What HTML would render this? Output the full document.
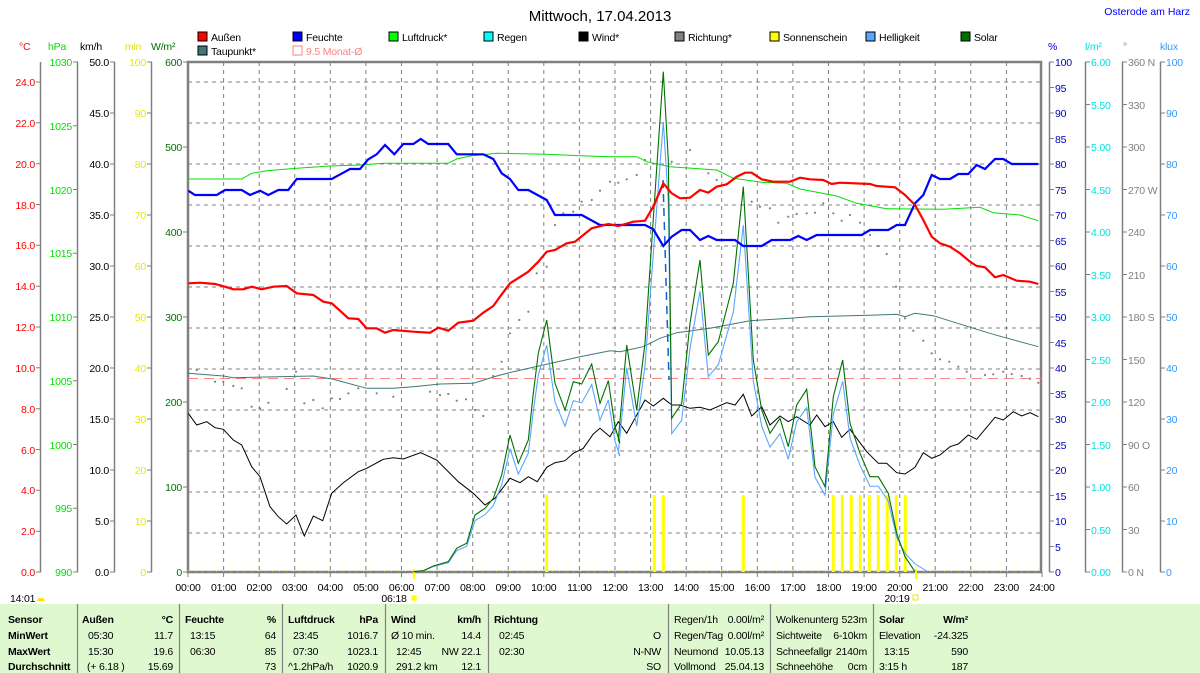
<!DOCTYPE html><html><head><meta charset="utf-8"><style>
body{margin:0;background:#fff;}
svg{display:block;font-family:"Liberation Sans",sans-serif;}
.t{font-size:10.5px;letter-spacing:-0.2px}
.tb{font-size:10.5px;font-weight:bold;letter-spacing:-0.2px}
</style></head><body>
<svg width="1200" height="673" viewBox="0 0 1200 673" xmlns="http://www.w3.org/2000/svg">
<rect width="1200" height="673" fill="#fff"/>
<text x="600" y="21" font-size="15" text-anchor="middle" fill="#000">Mittwoch, 17.04.2013</text>
<text x="1190" y="15" font-size="10.5" text-anchor="end" fill="#0000ff">Osterode am Harz</text>
<g class="t">
<rect x="198" y="32" width="9" height="9" fill="#f00" stroke="#000"/><text x="211" y="41">Außen</text>
<rect x="293" y="32" width="9" height="9" fill="#00f" stroke="#000"/><text x="306" y="41">Feuchte</text>
<rect x="389" y="32" width="9" height="9" fill="#0f0" stroke="#000"/><text x="402" y="41">Luftdruck*</text>
<rect x="484" y="32" width="9" height="9" fill="#0ff" stroke="#000"/><text x="497" y="41">Regen</text>
<rect x="579" y="32" width="9" height="9" fill="#000" stroke="#000"/><text x="592" y="41">Wind*</text>
<rect x="675" y="32" width="9" height="9" fill="#808080" stroke="#000"/><text x="688" y="41">Richtung*</text>
<rect x="770" y="32" width="9" height="9" fill="#ff0" stroke="#000"/><text x="783" y="41">Sonnenschein</text>
<rect x="866" y="32" width="9" height="9" fill="#59a5ff" stroke="#000"/><text x="879" y="41">Helligkeit</text>
<rect x="961" y="32" width="9" height="9" fill="#007000" stroke="#000"/><text x="974" y="41">Solar</text>
<rect x="198" y="46" width="9" height="9" fill="#407878" stroke="#000"/><text x="211" y="55">Taupunkt*</text>
<rect x="293" y="46" width="9" height="9" fill="none" stroke="#ff8080"/><text x="306" y="55" fill="#ff8080">9.5 Monat-Ø</text>
</g>
<g class="t">
<text x="19" y="50" fill="#f00">°C</text>
<text x="48" y="50" fill="#00e000">hPa</text>
<text x="80" y="50" fill="#000">km/h</text>
<text x="125" y="50" fill="#e0e000">min</text>
<text x="151" y="50" fill="#007000">W/m²</text>
<text x="1048" y="50" fill="#0000c0">%</text>
<text x="1085" y="50" fill="#00e0e0">l/m²</text>
<text x="1123" y="50" fill="#808080">°</text>
<text x="1160" y="50" fill="#3399ff">klux</text>
</g>
<g stroke="#808080" stroke-width="1.5">
<line x1="40.5" y1="62" x2="40.5" y2="572"/>
<line x1="77.5" y1="62" x2="77.5" y2="572"/>
<line x1="114.5" y1="62" x2="114.5" y2="572"/>
<line x1="151.5" y1="62" x2="151.5" y2="572"/>
<line x1="1049.5" y1="62" x2="1049.5" y2="572"/>
<line x1="1085.5" y1="62" x2="1085.5" y2="572"/>
<line x1="1122.5" y1="62" x2="1122.5" y2="572"/>
<line x1="1160.5" y1="62" x2="1160.5" y2="572"/>
</g>
<g stroke="#808080">
<path d="M36 82H41M36 122.8H41M36 163.7H41M36 204.5H41M36 245.3H41M36 286.2H41M36 327H41M36 367.8H41M36 408.7H41M36 449.5H41M36 490.3H41M36 531.2H41M36 572H41"/>
<path d="M73 62H78M73 125.75H78M73 189.5H78M73 253.25H78M73 317H78M73 380.75H78M73 444.5H78M73 508.25H78M73 572H78"/>
<path d="M110 62H115M110 113H115M110 164H115M110 215H115M110 266H115M110 317H115M110 368H115M110 419H115M110 470H115M110 521H115M110 572H115"/>
<path d="M147 62H152M147 113H152M147 164H152M147 215H152M147 266H152M147 317H152M147 368H152M147 419H152M147 470H152M147 521H152M147 572H152"/>
<path d="M183 62H188M183 147H188M183 232H188M183 317H188M183 402H188M183 487H188M183 572H188"/>
<path d="M1049 62h5M1049 87.5h5M1049 113h5M1049 138.5h5M1049 164h5M1049 189.5h5M1049 215h5M1049 240.5h5M1049 266h5M1049 291.5h5M1049 317h5M1049 342.5h5M1049 368h5M1049 393.5h5M1049 419h5M1049 444.5h5M1049 470h5M1049 495.5h5M1049 521h5M1049 546.5h5M1049 572h5"/>
<path d="M1085 62h5M1085 104.5h5M1085 147h5M1085 189.5h5M1085 232h5M1085 274.5h5M1085 317h5M1085 359.5h5M1085 402h5M1085 444.5h5M1085 487h5M1085 529.5h5M1085 572h5"/>
<path d="M1122 62h5M1122 104.5h5M1122 147h5M1122 189.5h5M1122 232h5M1122 274.5h5M1122 317h5M1122 359.5h5M1122 402h5M1122 444.5h5M1122 487h5M1122 529.5h5M1122 572h5"/>
<path d="M1160 62h5M1160 113h5M1160 164h5M1160 215h5M1160 266h5M1160 317h5M1160 368h5M1160 419h5M1160 470h5M1160 521h5M1160 572h5"/>
</g>
<g class="t" text-anchor="end">
<g fill="#f00"><text x="35" y="86">24.0</text><text x="35" y="127">22.0</text><text x="35" y="168">20.0</text><text x="35" y="209">18.0</text><text x="35" y="249">16.0</text><text x="35" y="290">14.0</text><text x="35" y="331">12.0</text><text x="35" y="372">10.0</text><text x="35" y="413">8.0</text><text x="35" y="454">6.0</text><text x="35" y="494">4.0</text><text x="35" y="535">2.0</text><text x="35" y="576">0.0</text></g>
<g fill="#00e000"><text x="72" y="66">1030</text><text x="72" y="130">1025</text><text x="72" y="194">1020</text><text x="72" y="257">1015</text><text x="72" y="321">1010</text><text x="72" y="385">1005</text><text x="72" y="449">1000</text><text x="72" y="512">995</text><text x="72" y="576">990</text></g>
<g fill="#000"><text x="109" y="66">50.0</text><text x="109" y="117">45.0</text><text x="109" y="168">40.0</text><text x="109" y="219">35.0</text><text x="109" y="270">30.0</text><text x="109" y="321">25.0</text><text x="109" y="372">20.0</text><text x="109" y="423">15.0</text><text x="109" y="474">10.0</text><text x="109" y="525">5.0</text><text x="109" y="576">0.0</text></g>
<g fill="#e8e800"><text x="146" y="66">100</text><text x="146" y="117">90</text><text x="146" y="168">80</text><text x="146" y="219">70</text><text x="146" y="270">60</text><text x="146" y="321">50</text><text x="146" y="372">40</text><text x="146" y="423">30</text><text x="146" y="474">20</text><text x="146" y="525">10</text><text x="146" y="576">0</text></g>
<g fill="#007000"><text x="182" y="66">600</text><text x="182" y="151">500</text><text x="182" y="236">400</text><text x="182" y="321">300</text><text x="182" y="406">200</text><text x="182" y="491">100</text><text x="182" y="576">0</text></g>
</g>
<g class="t">
<g fill="#0000c0"><text x="1055" y="66">100</text><text x="1055" y="92">95</text><text x="1055" y="117">90</text><text x="1055" y="143">85</text><text x="1055" y="168">80</text><text x="1055" y="194">75</text><text x="1055" y="219">70</text><text x="1055" y="245">65</text><text x="1055" y="270">60</text><text x="1055" y="296">55</text><text x="1055" y="321">50</text><text x="1055" y="347">45</text><text x="1055" y="372">40</text><text x="1055" y="398">35</text><text x="1055" y="423">30</text><text x="1055" y="449">25</text><text x="1055" y="474">20</text><text x="1055" y="500">15</text><text x="1055" y="525">10</text><text x="1055" y="551">5</text><text x="1055" y="576">0</text></g>
<g fill="#00e0e0"><text x="1091" y="66">6.00</text><text x="1091" y="109">5.50</text><text x="1091" y="151">5.00</text><text x="1091" y="194">4.50</text><text x="1091" y="236">4.00</text><text x="1091" y="279">3.50</text><text x="1091" y="321">3.00</text><text x="1091" y="364">2.50</text><text x="1091" y="406">2.00</text><text x="1091" y="449">1.50</text><text x="1091" y="491">1.00</text><text x="1091" y="534">0.50</text><text x="1091" y="576">0.00</text></g>
<g fill="#808080"><text x="1128" y="66">360 N</text><text x="1128" y="109">330</text><text x="1128" y="151">300</text><text x="1128" y="194">270 W</text><text x="1128" y="236">240</text><text x="1128" y="279">210</text><text x="1128" y="321">180 S</text><text x="1128" y="364">150</text><text x="1128" y="406">120</text><text x="1128" y="449">90 O</text><text x="1128" y="491">60</text><text x="1128" y="534">30</text><text x="1128" y="576">0 N</text></g>
<g fill="#3399ff"><text x="1166" y="66">100</text><text x="1166" y="117">90</text><text x="1166" y="168">80</text><text x="1166" y="219">70</text><text x="1166" y="270">60</text><text x="1166" y="321">50</text><text x="1166" y="372">40</text><text x="1166" y="423">30</text><text x="1166" y="474">20</text><text x="1166" y="525">10</text><text x="1166" y="576">0</text></g>
</g>
<g stroke="#808080" stroke-dasharray="4,4" stroke-width="1">
<path d="M188 82H1041M188 123H1041M188 164H1041M188 205H1041M188 246H1041M188 287H1041M188 328H1041M188 369H1041M188 410H1041M188 451H1041M188 492H1041M188 533H1041"/>
<path d="M223.6 62V572M259.2 62V572M294.7 62V572M330.3 62V572M365.9 62V572M401.5 62V572M437.1 62V572M472.7 62V572M508.2 62V572M543.8 62V572M579.4 62V572M615 62V572M650.6 62V572M686.2 62V572M721.7 62V572M757.3 62V572M792.9 62V572M828.5 62V572M864.1 62V572M899.7 62V572M935.2 62V572M970.8 62V572M1006.4 62V572"/>
</g>
<g stroke="#808080"><path d="M188 572v5M223.6 572v5M259.2 572v5M294.7 572v5M330.3 572v5M365.9 572v5M401.5 572v5M437.1 572v5M472.7 572v5M508.2 572v5M543.8 572v5M579.4 572v5M615 572v5M650.6 572v5M686.2 572v5M721.7 572v5M757.3 572v5M792.9 572v5M828.5 572v5M864.1 572v5M899.7 572v5M935.2 572v5M970.8 572v5M1006.4 572v5M1042 572v5"/></g>
<rect x="188" y="62" width="853" height="510" fill="none" stroke="#808080" stroke-width="2.5"/>
<line x1="188" y1="571" x2="1041" y2="571" stroke="#e8e800" stroke-width="1" stroke-dasharray="1,6"/>
<g stroke="#ffff00" stroke-width="3">
<path d="M546.7 572V495M654.3 572V495M663.3 572V495M743.3 572V495M833.3 572V495M842.3 572V495M851.3 572V495M860.3 572V495M869.3 572V495M878.3 572V495M887.3 572V495M896.3 572V495M905.3 572V495"/>
<path d="M414 569V579M916 569V579" stroke-width="2"/>
</g>
<line x1="188" y1="378.5" x2="1041" y2="378.5" stroke="#ff8080" stroke-dasharray="10,6"/>
<g fill="#808080">
<circle cx="196.7" cy="370" r="1.1"/><circle cx="215" cy="381.7" r="1.1"/><circle cx="223.3" cy="381.7" r="1.1"/><circle cx="233.3" cy="386" r="1.1"/><circle cx="241.7" cy="388.3" r="1.1"/><circle cx="251.7" cy="406.7" r="1.1"/><circle cx="260" cy="408.3" r="1.1"/><circle cx="268.3" cy="402.7" r="1.1"/><circle cx="286.7" cy="389" r="1.1"/><circle cx="296" cy="371.7" r="1.1"/><circle cx="304.3" cy="403.3" r="1.1"/><circle cx="313.3" cy="400" r="1.1"/><circle cx="322.7" cy="408.3" r="1.1"/><circle cx="331.7" cy="398.3" r="1.1"/><circle cx="340" cy="399" r="1.1"/><circle cx="348.3" cy="393.3" r="1.1"/><circle cx="358.3" cy="388.3" r="1.1"/><circle cx="376.7" cy="393.3" r="1.1"/><circle cx="393.3" cy="396.7" r="1.1"/><circle cx="430" cy="391.7" r="1.1"/><circle cx="440" cy="395" r="1.1"/><circle cx="448.3" cy="394" r="1.1"/><circle cx="456.7" cy="400.7" r="1.1"/><circle cx="466" cy="399.3" r="1.1"/><circle cx="475" cy="410" r="1.1"/><circle cx="483.3" cy="416" r="1.1"/><circle cx="493.3" cy="376" r="1.1"/><circle cx="501.7" cy="361.7" r="1.1"/><circle cx="510" cy="333.3" r="1.1"/><circle cx="519.3" cy="320" r="1.1"/><circle cx="528.3" cy="311.7" r="1.1"/><circle cx="536.7" cy="273.3" r="1.1"/><circle cx="546.7" cy="266.7" r="1.1"/><circle cx="555" cy="225" r="1.1"/><circle cx="563.3" cy="213.3" r="1.1"/><circle cx="573.3" cy="211.7" r="1.1"/><circle cx="581.7" cy="201.7" r="1.1"/><circle cx="591.7" cy="200" r="1.1"/><circle cx="600" cy="190.7" r="1.1"/><circle cx="610" cy="181.7" r="1.1"/><circle cx="618.3" cy="182.7" r="1.1"/><circle cx="626.7" cy="179.3" r="1.1"/><circle cx="636.7" cy="175" r="1.1"/><circle cx="645" cy="160" r="1.1"/><circle cx="671.7" cy="161.7" r="1.1"/><circle cx="690" cy="150" r="1.1"/><circle cx="708.3" cy="173.3" r="1.1"/><circle cx="716.7" cy="180" r="1.1"/><circle cx="751.7" cy="201.7" r="1.1"/><circle cx="760" cy="206.7" r="1.1"/><circle cx="770" cy="208.3" r="1.1"/><circle cx="778.3" cy="222.7" r="1.1"/><circle cx="788.3" cy="216.7" r="1.1"/><circle cx="796.7" cy="214" r="1.1"/><circle cx="806.7" cy="213.3" r="1.1"/><circle cx="815" cy="212.7" r="1.1"/><circle cx="823.3" cy="203.3" r="1.1"/><circle cx="833.3" cy="213.3" r="1.1"/><circle cx="841.7" cy="220.7" r="1.1"/><circle cx="850" cy="215" r="1.1"/><circle cx="860" cy="222.7" r="1.1"/><circle cx="870" cy="235" r="1.1"/><circle cx="878.3" cy="246" r="1.1"/><circle cx="886.7" cy="254" r="1.1"/><circle cx="896" cy="286.7" r="1.1"/><circle cx="905" cy="318.3" r="1.1"/><circle cx="913.3" cy="330.7" r="1.1"/><circle cx="923.3" cy="340.7" r="1.1"/><circle cx="931.7" cy="353.3" r="1.1"/><circle cx="940" cy="359.3" r="1.1"/><circle cx="949.3" cy="361.7" r="1.1"/><circle cx="958.3" cy="366.7" r="1.1"/><circle cx="966.7" cy="371.7" r="1.1"/><circle cx="985" cy="375" r="1.1"/><circle cx="993.3" cy="374.3" r="1.1"/><circle cx="1003.3" cy="371.7" r="1.1"/><circle cx="1011.7" cy="374" r="1.1"/><circle cx="1021.7" cy="376" r="1.1"/><circle cx="1030" cy="378.7" r="1.1"/><circle cx="1038.3" cy="382.7" r="1.1"/>
</g>
<polyline fill="none" stroke="#00e000" stroke-width="1" points="188.3,179 241.7,179 251.7,173.3 266.7,170.7 296.7,168.3 330,166 360,165 383.3,163.3 448.3,163.3 456.7,159 470,156 496.7,153.3 546.7,154.3 580,155.7 610,156.7 636.7,156.7 646.7,161.7 670,166.7 716.7,170 733.3,178.3 761.7,182.3 786.7,183.3 800,189 836.7,196 856.7,203.3 886.7,208.7 943.3,209.3 980,207.3 993.3,212.7 1020,215 1038.3,220.7"/>
<polyline fill="none" stroke="#407878" stroke-width="1" points="188.3,373.3 223.3,376 233.3,377.7 313.3,376 333.3,379.3 366.7,388.3 393.3,388.3 413.3,386.7 440,384 473.3,383.3 496.7,376 513.3,371.7 553.3,362.7 580,356.7 610,350.7 620,351.7 643.3,346.7 660,338.3 676.7,332.7 710,328.3 750,320.7 790,318.3 810,316.7 870,315.3 896.7,314.3 905,316.7 915,313.3 933.3,315.7 976.7,329.3 996.7,335.3 1038.3,346.7"/>
<polyline fill="none" stroke="#000" stroke-width="1" points="188.3,413.3 196.7,425 206.7,421.7 215,427.7 223.3,429.3 233.3,440 241.7,445 251.7,466.7 260,476.7 270,506.7 278.3,516.7 286.7,524 296,515 304.3,536 313.3,516 322.7,520.7 331.7,493.3 343.3,482.7 358.3,471.7 366.7,468.3 383.3,459.3 393.3,457.7 403.3,459 420.7,452.7 436.7,460 458.3,481.7 473.3,493.3 485,505 495,498.3 510,478.3 520,482.7 528.3,476.7 537.3,481.7 546.7,467.3 555,462.7 565,460.7 573.3,453.3 583.3,448.3 593.3,434 600,428.3 610,436.7 618.3,421.7 626.7,433.3 645,400 653.3,406 663.3,398.3 671.7,405 680,405 690,408.3 700,407.3 710,410 726.7,402.7 735,405 743.3,394.3 751.7,416 761.7,406.7 770,425 780,416 788.3,421.7 796.7,416.7 810,425 816.7,415 825,426.7 833.3,421.7 841.7,437.3 850,429.3 866.7,451.7 878.3,463.3 886.7,463.3 896.7,472.7 905,474 915,467.3 923.3,452.7 931.7,458.3 940,455 950,446.7 958.3,444 968.3,435 976.7,439.3 995,417.3 1003.3,420 1013.3,411.7 1021.7,416 1030,412.7 1038.3,416.7"/>
<g transform="translate(0,572) scale(1,0.9) translate(0,-572)">
<polyline fill="none" stroke="#59a5ff" stroke-width="1.1" points="413.3,571.7 423.3,570.7 433.3,566 448.3,561.7 456.7,548.3 466.7,543.3 475,515 485,508.3 493.3,498.3 501.7,475 510,435 518.3,463.3 528.3,440 533.3,393.3 538.3,353.3 546.7,320 555,383.3 565,410 573.3,381.7 581.7,384 591.7,364 600,403.3 608.3,380.7 615,426.7 620,443.3 618.3,440 626.7,345 636.7,410 645,343.3 655,193.3 663.3,71.7 668.3,160 671.7,418.3 681.7,403.3 690,323.3 700,260 708.3,355 718.3,341.7 733.3,283.3 743.3,186.7 753.3,360 761.7,410 770,433.3 780,418.3 788.3,446.7 796.7,405 806.7,389.3 815,466.7 825,486.7 833.3,396.7 842.7,360 850,423.3 860,453.3 870,476.7 878.3,476.7 888.3,493.3 896.7,533.3 905,551 915,563 928,571.7"/>
</g>
<polyline fill="none" stroke="#007000" stroke-width="1.1" points="413.3,571.7 423.3,570.7 433.3,566 448.3,561.7 456.7,548.3 466.7,543.3 475,515 485,508.3 493.3,498.3 501.7,475 510,435 518.3,463.3 528.3,440 533.3,393.3 538.3,353.3 546.7,320 555,383.3 565,410 573.3,381.7 581.7,384 591.7,364 600,403.3 608.3,380.7 615,426.7 620,443.3 618.3,440 626.7,345 636.7,410 645,343.3 655,193.3 663.3,71.7 668.3,160 671.7,418.3 681.7,403.3 690,323.3 700,260 708.3,355 718.3,341.7 733.3,283.3 743.3,186.7 753.3,360 761.7,410 770,433.3 780,418.3 788.3,446.7 796.7,405 806.7,389.3 815,466.7 825,486.7 833.3,396.7 842.7,360 850,423.3 860,453.3 870,476.7 878.3,476.7 888.3,493.3 896.7,533.3 905,556.7 915,571.7"/>
<line x1="663" y1="180" x2="669" y2="380" stroke="#1060d0" stroke-width="1.5" stroke-dasharray="8,6"/>
<polyline fill="none" stroke="#0000ff" stroke-width="2.2" points="188.3,190.7 195,195 216.7,195 225,190 241.7,190 250,195 260,190.7 268.3,195 278.3,190 288.3,190 296.7,179 331.7,179 343.3,172.7 350,169 360,169 368.3,159.3 376.7,154.3 385,145 394.3,154.3 403.3,144 413.3,144 420.7,139 428.3,144 448.3,144 456.7,154.3 483.3,154.3 493.3,159 501.7,173.3 510,179 518.3,190 528.3,190 546.7,200 555,215 581.7,215 600,225 645,225 653.3,229.3 663.3,246 671.7,236.7 681.7,230 690,230 700,240 708.3,236 716.7,240 735,240 743.3,246 761.7,246 771.7,240 790,240 798.3,236 806.7,240 816.7,235 861.7,235 870,230 888.3,230 896.7,225 905,225 915,203.3 923.3,195 931.7,175 940,179 950,179 958.3,174 968.3,174 976.7,165 985,169 995,159 1003.3,159 1011.7,164 1038.3,164"/>
<polyline fill="none" stroke="#ff0000" stroke-width="2.2" points="188.3,283.3 200,282.7 215,284 225,286.7 233.3,289.3 243.3,289.3 251.7,286.7 261.7,289.3 273.3,286.7 286.7,286 296.7,293.3 313.3,295 323.3,301.7 331.7,303.3 340,310.7 348.3,318.3 358.3,319 366.7,328.3 376.7,328.3 385,332.7 393.3,330 413.3,331.7 430,332.7 438.3,327.7 448.3,330.7 458.3,322.7 473.3,320.7 483.3,312.7 493.3,306 500,296.7 510,283.3 528.3,271.7 538.3,261.7 546.7,251.7 555,250 566.7,243.3 575,241.7 591.7,228.3 608.3,224 618.3,226 633.3,221.7 645,220.7 653.3,206.7 663.3,183.3 671.7,193.3 680,198.3 690,197.7 700,190 708.3,192.7 716.7,186.7 726.7,184.3 736.7,176.7 745,172.7 751.7,172.7 761.7,179.3 773.3,181.7 790,181.7 800,177.7 810,179.3 823.3,180 831.7,184 840,182.7 870,184 876.7,186 895,187.3 905,195 915,205 923.3,220 931.7,236.7 940,243.3 950,246.7 960,253.3 970,261.7 976.7,266 985,267.3 995,277.3 1003.3,275 1016.7,280.7 1030,281.7 1038.3,284"/>
<g class="t" text-anchor="middle">
<text x="188" y="591">00:00</text><text x="223.6" y="591">01:00</text><text x="259.2" y="591">02:00</text><text x="294.7" y="591">03:00</text><text x="330.3" y="591">04:00</text><text x="365.9" y="591">05:00</text><text x="401.5" y="591">06:00</text><text x="437.1" y="591">07:00</text><text x="472.7" y="591">08:00</text><text x="508.2" y="591">09:00</text><text x="543.8" y="591">10:00</text><text x="579.4" y="591">11:00</text><text x="615" y="591">12:00</text><text x="650.6" y="591">13:00</text><text x="686.2" y="591">14:00</text><text x="721.7" y="591">15:00</text><text x="757.3" y="591">16:00</text><text x="792.9" y="591">17:00</text><text x="828.5" y="591">18:00</text><text x="864.1" y="591">19:00</text><text x="899.7" y="591">20:00</text><text x="935.2" y="591">21:00</text><text x="970.8" y="591">22:00</text><text x="1006.4" y="591">23:00</text><text x="1042" y="591">24:00</text>
<text x="394" y="602">06:18</text><text x="897" y="602">20:19</text>
</g>
<text class="t" x="10" y="602">14:01</text>
<path d="M37 601a4 3 0 0 1 8 0z" fill="#ffe000"/>
<circle cx="414" cy="598" r="3" fill="#ffff00"/>
<rect x="913" y="595" width="5" height="5" fill="none" stroke="#e8e800"/>
<rect x="0" y="604" width="1200" height="69" fill="#e0f8d0"/>
<g stroke="#808080" stroke-width="1.2"><path d="M77.5 604V673M179.5 604V673M282.5 604V673M385.5 604V673M488.5 604V673M668.5 604V673M770.5 604V673M873.5 604V673"/></g>
<g class="tb">
<text x="8" y="623">Sensor</text><text x="8" y="639">MinWert</text><text x="8" y="655">MaxWert</text><text x="8" y="670">Durchschnitt</text>
<text x="82" y="623">Außen</text><text x="173" y="623" text-anchor="end">°C</text>
<text x="185" y="623">Feuchte</text><text x="276" y="623" text-anchor="end">%</text>
<text x="288" y="623">Luftdruck</text><text x="378" y="623" text-anchor="end">hPa</text>
<text x="391" y="623">Wind</text><text x="481" y="623" text-anchor="end">km/h</text>
<text x="494" y="623">Richtung</text>
<text x="879" y="623">Solar</text><text x="968" y="623" text-anchor="end">W/m²</text>
</g>
<g class="t">
<text x="88" y="639">05:30</text><text x="173" y="639" text-anchor="end">11.7</text>
<text x="88" y="655">15:30</text><text x="173" y="655" text-anchor="end">19.6</text>
<text x="87" y="670">(+ 6.18 )</text><text x="173" y="670" text-anchor="end">15.69</text>
<text x="190" y="639">13:15</text><text x="276" y="639" text-anchor="end">64</text>
<text x="190" y="655">06:30</text><text x="276" y="655" text-anchor="end">85</text>
<text x="276" y="670" text-anchor="end">73</text>
<text x="293" y="639">23:45</text><text x="378" y="639" text-anchor="end">1016.7</text>
<text x="293" y="655">07:30</text><text x="378" y="655" text-anchor="end">1023.1</text>
<text x="288" y="670">^1.2hPa/h</text><text x="378" y="670" text-anchor="end">1020.9</text>
<text x="391" y="639">Ø 10 min.</text><text x="481" y="639" text-anchor="end">14.4</text>
<text x="396" y="655">12:45</text><text x="481" y="655" text-anchor="end">NW 22.1</text>
<text x="396" y="670">291.2 km</text><text x="481" y="670" text-anchor="end">12.1</text>
<text x="499" y="639">02:45</text><text x="661" y="639" text-anchor="end">O</text>
<text x="499" y="655">02:30</text><text x="661" y="655" text-anchor="end">N-NW</text>
<text x="661" y="670" text-anchor="end">SO</text>
<text x="674" y="623">Regen/1h</text><text x="764" y="623" text-anchor="end">0.00l/m²</text>
<text x="674" y="639">Regen/Tag</text><text x="764" y="639" text-anchor="end">0.00l/m²</text>
<text x="674" y="655">Neumond</text><text x="764" y="655" text-anchor="end">10.05.13</text>
<text x="674" y="670">Vollmond</text><text x="764" y="670" text-anchor="end">25.04.13</text>
<text x="776" y="623">Wolkenunterg</text><text x="867" y="623" text-anchor="end">523m</text>
<text x="776" y="639">Sichtweite</text><text x="867" y="639" text-anchor="end">6-10km</text>
<text x="776" y="655">Schneefallgr</text><text x="867" y="655" text-anchor="end">2140m</text>
<text x="776" y="670">Schneehöhe</text><text x="867" y="670" text-anchor="end">0cm</text>
<text x="879" y="639">Elevation</text><text x="968" y="639" text-anchor="end">-24.325</text>
<text x="884" y="655">13:15</text><text x="968" y="655" text-anchor="end">590</text>
<text x="879" y="670">3:15 h</text><text x="968" y="670" text-anchor="end">187</text>
</g>
</svg>
</body></html>
